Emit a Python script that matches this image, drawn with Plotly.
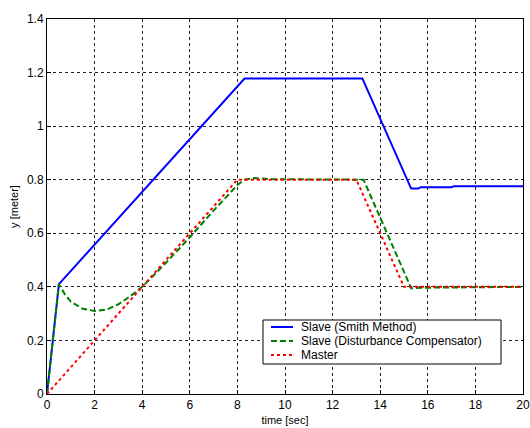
import plotly.graph_objects as go

# Master (red dotted)
t_master = [0, 8, 13, 15, 20]
y_master = [0.0, 0.8, 0.8, 0.4, 0.4]

# Slave (Smith Method) (blue solid)
t_smith = [0, 0.5, 8.3, 13.25, 15.3, 15.6, 15.7, 17.0, 17.1, 20]
y_smith = [0.0, 0.41, 1.178, 1.178, 0.767, 0.767, 0.772, 0.772, 0.776, 0.776]

# Slave (Disturbance Compensator) (green dashed)
t_dist = [0, 0.5, 0.75, 1.0, 1.5, 2.0, 2.5, 3.0, 3.5, 4.0, 5.0, 6.0, 7.0, 8.0, 8.3, 8.7, 9.5, 13.3, 15.3, 16.0, 20]
y_dist = [0.0, 0.41, 0.372, 0.345, 0.318, 0.31, 0.315, 0.335, 0.365, 0.40, 0.49, 0.585, 0.685, 0.78, 0.80, 0.806, 0.802, 0.80, 0.395, 0.397, 0.40]

x_ticks = [0, 2, 4, 6, 8, 10, 12, 14, 16, 18, 20]
y_ticks = [0, 0.2, 0.4, 0.6, 0.8, 1.0, 1.2, 1.4]
y_tick_labels = ["0", "0.2", "0.4", "0.6", "0.8", "1", "1.2", "1.4"]

series_names = ["Slave (Smith Method)", "Slave (Disturbance Compensator)", "Master"]
series_colors = ["#0000ff", "#008000", "#ff0000"]
series_dash = ["solid", "6px,3px", "dot"]

FONT = "Liberation Sans"

W, H = 530, 428
ML, MR, MT, MB = 47, 7, 19, 34
PW, PH = W - ML - MR, H - MT - MB


def px_to_paper(px, py):
    return (px - ML) / PW, (H - MB - py) / PH


fig = go.Figure()
for (tx, ty), name, col, dsh in zip([(t_smith, y_smith), (t_dist, y_dist), (t_master, y_master)],
                                    series_names, series_colors, series_dash):
    fig.add_trace(go.Scatter(x=tx, y=ty, mode="lines", name=name,
                             line=dict(color=col, width=2, dash=dsh), showlegend=False))

axis_common = dict(
    showline=True, linecolor="black", linewidth=1, mirror=True,
    ticks="inside", ticklen=4, tickcolor="black",
    showgrid=True, gridcolor="#222222", gridwidth=1, griddash="3px,3px",
    zeroline=False, automargin=False,
    tickfont=dict(family=FONT, size=12, color="black"),
)

fig.update_xaxes(range=[0, 20], tickvals=x_ticks, ticktext=[str(v) for v in x_ticks],
                 title=dict(text="time [sec]", font=dict(family=FONT, size=11, color="black"), standoff=4),
                 **axis_common)
fig.update_yaxes(range=[0, 1.4], tickvals=y_ticks, ticktext=y_tick_labels,
                 title=dict(text="y [meter]", font=dict(family=FONT, size=11, color="black"), standoff=6),
                 **axis_common)

# Manual legend (compact, MATLAB style)
x0, y0 = px_to_paper(263, 320)
x1, y1 = px_to_paper(501, 364)
shapes = [dict(type="rect", xref="paper", yref="paper", x0=x0, y0=y1, x1=x1, y1=y0,
               line=dict(color="black", width=1), fillcolor="white", layer="above")]
annotations = []
row_y = [327, 341, 355]
for ry, name, col, dsh in zip(row_y, series_names, series_colors, series_dash):
    lx0, ly = px_to_paper(271, ry)
    lx1, _ = px_to_paper(293, ry)
    tx, _ = px_to_paper(299, ry)
    shapes.append(dict(type="line", xref="paper", yref="paper", x0=lx0, x1=lx1, y0=ly, y1=ly,
                       line=dict(color=col, width=2, dash=dsh), layer="above"))
    annotations.append(dict(x=tx, y=ly, xref="paper", yref="paper", text=name, showarrow=False,
                            xanchor="left", yanchor="middle",
                            font=dict(family=FONT, size=12, color="black")))

fig.update_layout(
    width=W, height=H,
    margin=dict(l=ML, r=MR, t=MT, b=MB),
    paper_bgcolor="white", plot_bgcolor="white",
    font=dict(family=FONT, size=12, color="black"),
    showlegend=False,
    shapes=shapes, annotations=annotations,
)

fig.write_html("out.html")
